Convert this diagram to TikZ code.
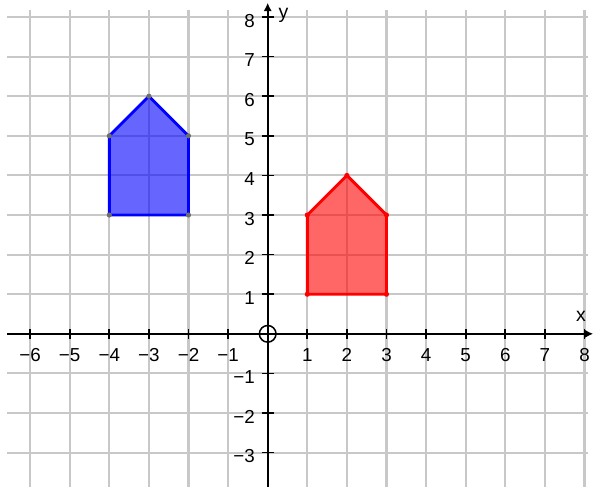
\documentclass[tikz,border=0pt]{standalone}
\usepackage{fontspec}
\setmainfont{Liberation Sans}
\usetikzlibrary{arrows.meta}
\definecolor{gridgray}{RGB}{200,200,200}
\definecolor{ptgray}{RGB}{110,110,110}
\begin{document}
\begin{tikzpicture}[x=1cm,y=1cm,
  gridline/.style={draw=gridgray, line width=1.45pt},
  axisline/.style={draw=black, line width=1.3pt, -{Latex[length=2.1mm,width=2.1mm]}},
  tickmark/.style={draw=black, line width=1.2pt},
  ticklabel/.style={font=\fontsize{13.5}{14}\selectfont, inner sep=0pt},
  axislabel/.style={font=\fontsize{14}{15}\selectfont, inner sep=0pt},
  bluepoly/.style={draw=blue, line width=2.1pt, fill=blue, fill opacity=0.6, line join=round},
  redpoly/.style={draw=red, line width=2.1pt, fill=red, fill opacity=0.6, line join=round},
  bluept/.style={fill=ptgray},
  redpt/.style={fill=red}]
\useasboundingbox[fill=white] (-6.76,-3.86) rectangle (8.24,8.43);
% grid
\foreach \x in {-6,...,8} \draw[gridline] (\x,-3.86) -- (\x,8.18);
\foreach \y in {-3,...,8} \draw[gridline] (-6.58,\y) -- (8.09,\y);
% blue polygon
\coordinate (B1) at (-4,3);
\coordinate (B2) at (-4,5);
\coordinate (B3) at (-3,6);
\coordinate (B4) at (-2,5);
\coordinate (B5) at (-2,3);
\draw[bluepoly] (B1) -- (B2) -- (B3) -- (B4) -- (B5) -- cycle;
\foreach \p in {B1,B2,B3,B4,B5} \fill[bluept] (\p) circle (0.065);
% red polygon
\coordinate (R1) at (1,1);
\coordinate (R2) at (1,3);
\coordinate (R3) at (2,4);
\coordinate (R4) at (3,3);
\coordinate (R5) at (3,1);
\draw[redpoly] (R1) -- (R2) -- (R3) -- (R4) -- (R5) -- cycle;
\foreach \p in {R1,R2,R3,R4,R5} \fill[redpt] (\p) circle (0.065);
% axes
\coordinate (xs) at (-6.58,0);
\coordinate (xe) at (8.22,0);
\coordinate (ys) at (0,-3.86);
\coordinate (ye) at (0,8.36);
\draw[axisline] (xs) -- (xe);
\draw[axisline] (ys) -- (ye);
% ticks and labels
\foreach \x/\t in {-6/−6,-5/−5,-4/−4,-3/−3,-2/−2,-1/−1,1/1,2/2,3/3,4/4,5/5,6/6,7/7,8/8} {
  \draw[tickmark] (\x,-0.12) -- (\x,0.12);
  \node[ticklabel, anchor=north] (xl\x) at (\x,-0.36) {\t};
}
\foreach \y/\t in {-3/−3,-2/−2,-1/−1,1/1,2/2,3/3,4/4,5/5,6/6,7/7,8/8} {
  \draw[tickmark] (-0.15,\y) -- (0.15,\y);
  \node[ticklabel, anchor=east] (yl\y) at (-0.32,\y-0.09) {\t};
}
% origin circle
\node[draw=black, line width=1.1pt, circle, minimum size=0.42cm, inner sep=0pt] (O) at (0,0) {};
% axis names
\node[axislabel] (xname) at (7.91,0.44) {x};
\node[axislabel] (yname) at (0.40,8.03) {y};
\end{tikzpicture}
\end{document}
